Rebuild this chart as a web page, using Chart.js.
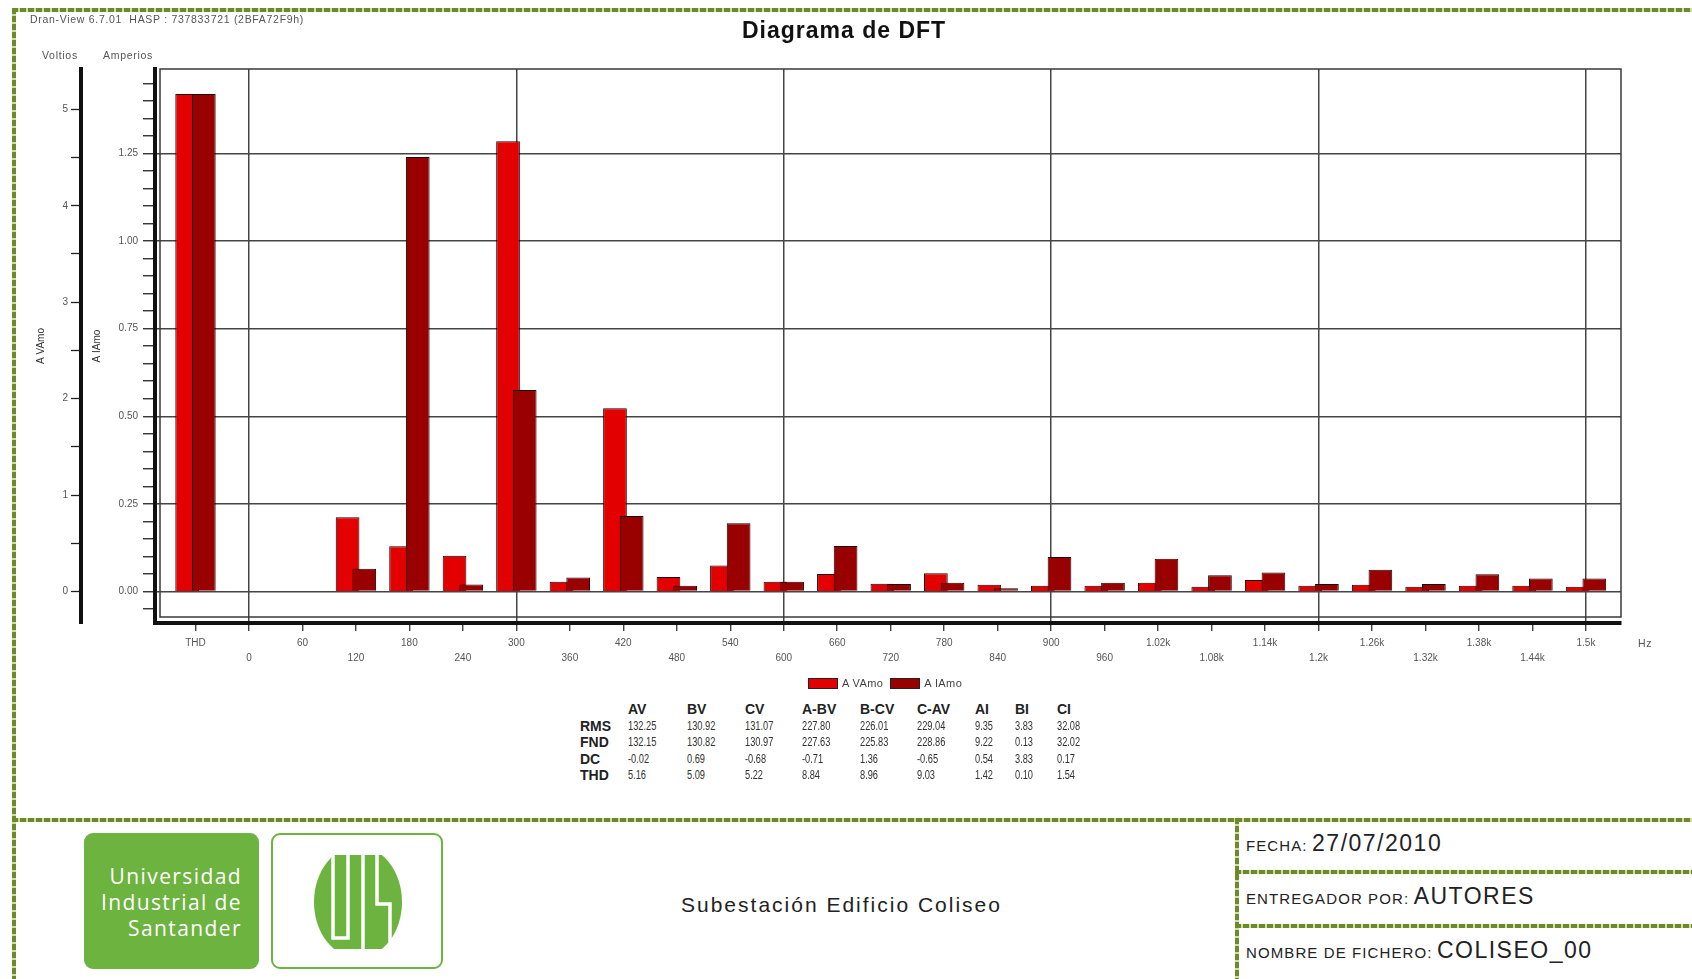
<!DOCTYPE html>
<html lang="es">
<head>
<meta charset="utf-8">
<title>Diagrama de DFT</title>
<script src="https://cdn.jsdelivr.net/npm/chart.js@4.4.1/dist/chart.umd.min.js"></script>
<style>
  html, body { margin: 0; padding: 0; background: #fff; }
  body { width: 1692px; height: 979px; position: relative; overflow: hidden;
         font-family: "Liberation Sans", Arial, sans-serif; color: #222; }
  .abs { position: absolute; white-space: nowrap; }
  .rope-h { position: absolute; height: 4px;
            background: repeating-linear-gradient(90deg, #6c8a2a 0 6px, #d3dda3 6px 8px); }
  .rope-v { position: absolute; width: 4px;
            background: repeating-linear-gradient(180deg, #6c8a2a 0 6px, #d3dda3 6px 8px); }
  #dft { position: absolute; left: 0; top: 0; }
  .small { font-size: 10.5px; color: #555; letter-spacing: 0.7px; }
  #legend { left: 808px; top: 677px; display: flex; align-items: center; font-size: 11px; color: #444; letter-spacing: 0.4px; }
  #legend .sw { width: 28px; height: 9px; border: 1px solid #222; margin-right: 4px; }
  #legend .item { display: flex; align-items: center; margin-right: 7px; }
  #stats { left: 580px; top: 701px; display: grid;
           grid-template-columns: 48px 59px 58px 57px 58px 57px 58px 40px 42px 45px;
           grid-auto-rows: 16.5px; align-items: center; }
  #stats .hd { font-weight: bold; font-size: 14px; color: #222; }
  #stats .v { font-size: 12.5px; color: #333; }
  #stats .v span { display: inline-block; transform: scaleX(0.74); transform-origin: left center; }
  .logo-a { left: 84px; top: 833px; width: 175px; height: 136px; background: #6cb33f; border-radius: 9px;
            color: #fff; font-family: "Open Sans", "Noto Sans", sans-serif; font-size: 21px; line-height: 26px;
            letter-spacing: 1.4px; text-align: right; box-sizing: border-box; padding: 30px 17px 0 0; }
  .logo-b { left: 271px; top: 833px; width: 172px; height: 136px; border: 2px solid #6cb33f; border-radius: 9px;
            box-sizing: border-box; background: #fff; }
  .lbl { font-size: 15px; color: #222; letter-spacing: 1.1px; }
  .val { font-size: 23px; color: #222; letter-spacing: 1.5px; }
</style>
</head>
<body>

<!-- frame ropes -->
<div class="rope-h" style="left:12px;top:8px;width:1680px;"></div>
<div class="rope-v" style="left:12px;top:8px;height:971px;"></div>
<div class="rope-h" style="left:12px;top:818px;width:1680px;"></div>
<div class="rope-v" style="left:1235px;top:818px;height:161px;"></div>
<div class="rope-h" style="left:1235px;top:870px;width:457px;"></div>
<div class="rope-h" style="left:1235px;top:924px;width:457px;"></div>

<canvas id="dft" width="1692" height="700"></canvas>

<div class="abs small" style="left:30px;top:13px;">Dran-View 6.7.01&nbsp; HASP : 737833721 (2BFA72F9h)</div>
<div class="abs" style="left:742px;top:17px;font-weight:bold;font-size:23px;letter-spacing:1px;color:#111;">Diagrama de DFT</div>
<div class="abs small" style="left:42px;top:49px;">Voltios</div>
<div class="abs small" style="left:103px;top:49px;">Amperios</div>
<div class="abs small" style="left:1638px;top:637px;">Hz</div>

<div id="legend" class="abs"></div>
<div id="stats" class="abs"></div>

<!-- bottom panel -->
<div class="abs logo-a">Universidad<br>Industrial de<br>Santander</div>
<div class="abs logo-b">
  <svg width="88" height="100" viewBox="0 0 88 100" style="position:absolute;left:41px;top:17px;">
    <defs><clipPath id="cut"><rect x="0" y="3" width="88" height="94"/></clipPath></defs>
    <ellipse cx="44" cy="50" rx="44" ry="56" fill="#6cb33f" clip-path="url(#cut)"/>
    <g stroke="#fff" stroke-width="3.5" fill="none">
      <path d="M19 0 V86 H34 V0"/>
      <path d="M49 0 V100"/>
      <path d="M63 0 V52 H76 V100"/>
    </g>
  </svg>
</div>
<div class="abs" style="left:681px;top:893px;font-size:21px;color:#222;letter-spacing:2px;">Subestación Edificio Coliseo</div>

<div class="abs" style="left:1246px;top:830px;"><span class="lbl">FECHA:</span> <span class="val">27/07/2010</span></div>
<div class="abs" style="left:1246px;top:883px;"><span class="lbl">ENTREGADOR POR:</span> <span class="val">AUTORES</span></div>
<div class="abs" style="left:1246px;top:937px;"><span class="lbl">NOMBRE DE FICHERO:</span> <span class="val">COLISEO_00</span></div>

<script>
// harmonic order labels: THD first, then 0 Hz .. 1.5 kHz in 60 Hz steps
const categories = ['THD', '0', '60', '120', '180', '240', '300', '360', '420', '480', '540', '600', '660',
  '720', '780', '840', '900', '960', '1.02k', '1.08k', '1.14k', '1.2k', '1.26k', '1.32k', '1.38k', '1.44k', '1.5k'];

// A VAmo (left "Voltios" axis)
const voltageAmp = [5.16, null, null, 0.77, 0.47, 0.37, 4.67, 0.10, 1.90, 0.15, 0.27, 0.10, 0.18,
  0.08, 0.19, 0.07, 0.06, 0.06, 0.09, 0.05, 0.12, 0.06, 0.07, 0.05, 0.06, 0.06, 0.05];

// A IAmo (inner "Amperios" axis)
const currentAmp = [1.42, null, null, 0.065, 1.24, 0.02, 0.575, 0.04, 0.215, 0.016, 0.195, 0.028, 0.13,
  0.021, 0.025, 0.009, 0.098, 0.025, 0.093, 0.046, 0.054, 0.021, 0.062, 0.021, 0.049, 0.037, 0.037];

const seriesNames = ['A VAmo', 'A IAmo'];
const seriesColors = ['#e30000', '#990000'];

// axis ranges
const xRange = [-0.757, 26.655];
const voltRange = [-0.327, 5.4185];
const ampRange = [-0.09, 1.491];

// summary table
const statColumns = ['AV', 'BV', 'CV', 'A-BV', 'B-CV', 'C-AV', 'AI', 'BI', 'CI'];
const statRows = ['RMS', 'FND', 'DC', 'THD'];
const rmsValues = [132.25, 130.92, 131.07, 227.80, 226.01, 229.04, 9.35, 3.83, 32.08];
const fndValues = [132.15, 130.82, 130.97, 227.63, 225.83, 228.86, 9.22, 0.13, 32.02];
const dcValues  = [-0.02, 0.69, -0.68, -0.71, 1.36, -0.65, 0.54, 3.83, 0.17];
const thdValues = [5.16, 5.09, 5.22, 8.84, 8.96, 9.03, 1.42, 0.10, 1.54];

const near = (v, step) => Math.abs(v / step - Math.round(v / step)) < 1e-6;
const clear = 'rgba(0,0,0,0)';

// thin plot frame drawn just inside the heavy axis lines
const plotFrame = {
  id: 'plotFrame',
  beforeDatasetsDraw(chart) {
    const { ctx, chartArea: a } = chart;
    ctx.save();
    ctx.strokeStyle = '#3a3a3a';
    ctx.lineWidth = 1.5;
    ctx.strokeRect(a.left + 5, a.top, a.right - a.left - 5, a.bottom - a.top - 6);
    ctx.restore();
  }
};

// current bars sit on top of the voltage bars they overlap
const currentOnTop = {
  id: 'currentOnTop',
  beforeDatasetDraw(chart, args) {
    if (args.index === 1 && !chart.$drawingCurrent) return false;
  },
  afterDatasetsDraw(chart) {
    chart.$drawingCurrent = true;
    chart.getDatasetMeta(1).controller.draw();
    chart.$drawingCurrent = false;
  }
};

Chart.defaults.font.family = '"Liberation Sans", Arial, sans-serif';

new Chart(document.getElementById('dft'), {
  type: 'bar',
  data: {
    datasets: [
      {
        label: seriesNames[0], yAxisID: 'yV',
        data: voltageAmp.map((v, i) => ({ x: i, y: v })),
        backgroundColor: seriesColors[0], borderColor: '#1a0000', borderWidth: 1,
        categoryPercentage: 0.624, barPercentage: 1.42
      },
      {
        label: seriesNames[1], yAxisID: 'yA',
        data: currentAmp.map((v, i) => ({ x: i, y: v })),
        backgroundColor: seriesColors[1], borderColor: '#1a0000', borderWidth: 1,
        categoryPercentage: 0.624, barPercentage: 1.42
      }
    ]
  },
  options: {
    responsive: false,
    animation: false,
    layout: { padding: { left: 25, top: 69, right: 71, bottom: 37 } },
    plugins: { legend: { display: false }, tooltip: { enabled: false } },
    scales: {
      x: {
        type: 'linear', position: 'bottom', min: xRange[0], max: xRange[1], offset: false,
        border: { display: true, width: 4, color: '#111' },
        grid: {
          offset: false,
          color: c => c.tick && (Math.round(c.tick.value) - 1) % 5 === 0 ? '#454545' : clear,
          lineWidth: 1.5, tickColor: '#222', tickWidth: 1.2, tickLength: 8
        },
        ticks: {
          stepSize: 1, includeBounds: false, autoSkip: false, maxRotation: 0, minRotation: 0,
          padding: 5, color: '#555', font: { size: 10, lineHeight: 1.5 },
          callback: v => {
            const i = Math.round(v);
            const label = categories[i];
            return i % 2 ? ['', label] : label;
          }
        },
        afterFit: s => { s.height = 40; }
      },
      yV: {
        type: 'linear', position: 'left', weight: 2, min: voltRange[0], max: voltRange[1],
        border: { display: true, width: 4, color: '#111' },
        grid: { drawOnChartArea: false, color: '#222', tickColor: '#222', tickWidth: 1.3, tickLength: 10 },
        ticks: {
          stepSize: 0.5, includeBounds: false, padding: 3, color: '#555', font: { size: 10 },
          callback: v => near(v, 1) ? String(Math.round(v)) : ''
        },
        title: { display: true, text: seriesNames[0], color: '#333', font: { size: 10 }, padding: { top: 10, bottom: 0 } },
        afterFit: s => { s.width = 56; }
      },
      yA: {
        type: 'linear', position: 'left', weight: 1, min: ampRange[0], max: ampRange[1],
        border: { display: true, width: 4, color: '#111' },
        grid: {
          color: c => c.tick && near(c.tick.value, 0.25) ? '#454545' : clear,
          lineWidth: 1.5, tickColor: '#222', tickWidth: 1.3, tickLength: 12
        },
        ticks: {
          stepSize: 0.05, includeBounds: false, padding: 5, color: '#555', font: { size: 10 },
          callback: v => near(v, 0.25) ? v.toFixed(2) : ''
        },
        title: { display: true, text: seriesNames[1], color: '#333', font: { size: 10 }, padding: { top: 10, bottom: 0 } },
        afterFit: s => { s.width = 74; }
      }
    }
  },
  plugins: [plotFrame, currentOnTop]
});

// legend
const legend = document.getElementById('legend');
seriesNames.forEach((name, i) => {
  const item = document.createElement('div');
  item.className = 'item';
  item.innerHTML = `<span class="sw" style="background:${seriesColors[i]}"></span><span>${name}</span>`;
  legend.appendChild(item);
});

// summary table
const stats = document.getElementById('stats');
const rowValues = [rmsValues, fndValues, dcValues, thdValues];
let html = '<div></div>' + statColumns.map(c => `<div class="hd">${c}</div>`).join('');
statRows.forEach((r, ri) => {
  html += `<div class="hd">${r}</div>` + rowValues[ri].map(v => `<div class="v"><span>${v.toFixed(2)}</span></div>`).join('');
});
stats.innerHTML = html;
</script>
</body>
</html>
